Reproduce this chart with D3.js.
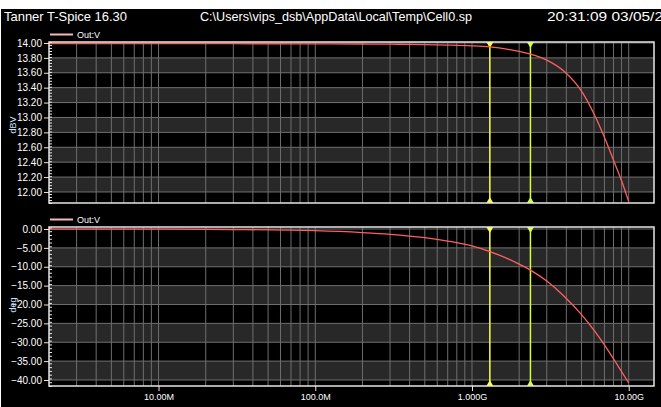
<!DOCTYPE html>
<html>
<head>
<meta charset="utf-8">
<script src="https://cdn.jsdelivr.net/npm/d3@7"></script>
<style>
body { margin: 0; background: #fff; }
svg { display: block; }
.tk text { fill: #fff; font-family: "Liberation Sans Narrow", "Liberation Sans", Arial, sans-serif; font-size: 10px; }
.tk line { stroke: #e8e8e8; }
.tk path { display: none; }
</style>
</head>
<body>
<svg id="chart" width="661" height="407"></svg>
<script>
// frequency points (Hz) and the two traces
var freqs = [2e6, 1e7, 3e7, 1e8, 2e8, 3e8, 5e8, 7e8, 1e9, 1.3e9, 1.7e9, 2e9, 2.36e9, 3e9, 3.87e9, 5.08e9, 6.03e9, 6.98e9, 8.09e9, 9e9, 1e10];
var magDBV = [13.99, 13.99, 13.99, 13.988, 13.986, 13.984, 13.978, 13.972, 13.962, 13.947, 13.915, 13.887, 13.85, 13.77, 13.62, 13.33, 13.04, 12.74, 12.40, 12.15, 11.87];
var phaseDeg = [-0.01, -0.05, -0.14, -0.45, -0.95, -1.4, -2.3, -3.2, -4.5, -6.0, -7.9, -9.3, -10.9, -13.8, -17.8, -23.0, -26.9, -30.6, -34.7, -37.8, -40.8];

var magTicks = [14.0, 13.8, 13.6, 13.4, 13.2, 13.0, 12.8, 12.6, 12.4, 12.2, 12.0];
var phaseTicks = [0, -5, -10, -15, -20, -25, -30, -35, -40];
var xTicks = [1e7, 1e8, 1e9, 1e10];
var xTickLabels = ['10.00M', '100.0M', '1.000G', '10.00G'];
var cursors = [1.3e9, 2.36e9];
var cursorColors = ['#ffff3c', '#d4ff3c'];

var titleLeft = 'Tanner T-Spice 16.30';
var titleMid = 'C:\\Users\\vips_dsb\\AppData\\Local\\Temp\\Cell0.sp';
var titleRight = '20:31:09 03/05/2';
var seriesName = 'Out:V';

var svg = d3.select('#chart');
var font = '"Liberation Sans Narrow", "Liberation Sans", Arial, sans-serif';

svg.append('rect').attr('x', 1).attr('y', 9).attr('width', 660).attr('height', 398).attr('fill', '#000');

svg.append('text').attr('x', 4).attr('y', 21).text(titleLeft)
	.attr('fill', '#fff').style('font-family', font).style('font-size', '13px')
	.attr('textLength', 123).attr('lengthAdjust', 'spacingAndGlyphs');
svg.append('text').attr('x', 200).attr('y', 21).text(titleMid)
	.attr('fill', '#fff').style('font-family', font).style('font-size', '13px')
	.attr('textLength', 272).attr('lengthAdjust', 'spacingAndGlyphs');
svg.append('text').attr('x', 547).attr('y', 21).text(titleRight)
	.attr('fill', '#fff').style('font-family', font).style('font-size', '13px')
	.attr('textLength', 116).attr('lengthAdjust', 'spacingAndGlyphs');

var x = d3.scaleLog().domain([2e6, 1.45e10]).range([49, 654]);

// vertical grid: 1..9 per decade
var gridF = [];
for (var e = 6; e <= 10; e++)
	for (var m = 1; m <= 9; m++) {
		var f = m * Math.pow(10, e);
		if (f > 2e6 && f <= 1e10) gridF.push(f);
	}

function Panel(opt) {
	var y = d3.scaleLinear().domain(opt.domain).range([opt.bottom, opt.top]);
	var g = svg.append('g');
	var clipId = 'clip' + opt.id;
	svg.append('clipPath').attr('id', clipId).append('rect')
		.attr('x', 49).attr('y', opt.top).attr('width', 605).attr('height', opt.bottom - opt.top);

	// alternating bands
	opt.bands.forEach(function(b) {
		g.append('rect').attr('x', 49).attr('width', 605)
			.attr('y', y(b[1])).attr('height', y(b[0]) - y(b[1]))
			.attr('fill', '#282828');
	});
	g.selectAll('.vg').data(gridF).enter().append('line')
		.attr('x1', function(d) { return x(d); }).attr('x2', function(d) { return x(d); })
		.attr('y1', opt.top).attr('y2', opt.bottom)
		.attr('stroke', '#6e6e6e').attr('stroke-width', 1);
	g.selectAll('.hg').data(opt.ticks).enter().append('line')
		.attr('x1', 49).attr('x2', 654)
		.attr('y1', function(d) { return y(d); }).attr('y2', function(d) { return y(d); })
		.attr('stroke', '#707070').attr('stroke-width', 1);

	// cursors
	cursors.forEach(function(c, i) {
		var cx = x(c);
		g.append('line').attr('x1', cx).attr('x2', cx).attr('y1', opt.top).attr('y2', opt.bottom)
			.attr('stroke', cursorColors[i]).attr('stroke-width', 1.5);
		g.append('path').attr('d', 'M' + (cx - 3.5) + ',' + opt.top + 'L' + (cx + 3.5) + ',' + opt.top + 'L' + cx + ',' + (opt.top + 6) + 'Z')
			.attr('fill', cursorColors[i]);
		g.append('path').attr('d', 'M' + (cx - 3.5) + ',' + opt.bottom + 'L' + (cx + 3.5) + ',' + opt.bottom + 'L' + cx + ',' + (opt.bottom - 6) + 'Z')
			.attr('fill', cursorColors[i]);
	});

	var line = d3.line().curve(d3.curveMonotoneX)
		.x(function(d, i) { return x(freqs[i]); })
		.y(function(d) { return y(d); });
	g.append('path').datum(opt.values).attr('d', line)
		.attr('clip-path', 'url(#' + clipId + ')')
		.attr('fill', 'none').attr('stroke', '#ff5f5f').attr('stroke-width', 1.3);

	// minor ticks inside frame
	var minor = [];
	for (var v = opt.domain[0]; v <= opt.domain[1]; v += opt.minorStep) minor.push(v);
	g.append('g').attr('class', 'tk').attr('transform', 'translate(49,0)')
		.call(d3.axisRight(y).tickValues(minor).tickSize(3).tickFormat(''));
	g.append('g').attr('class', 'tk').attr('transform', 'translate(49,0)')
		.call(d3.axisLeft(y).tickValues(opt.ticks).tickSize(5).tickPadding(2).tickFormat(d3.format('.2f')));

	g.append('rect').attr('x', 49).attr('y', opt.top).attr('width', 605).attr('height', opt.bottom - opt.top)
		.attr('fill', 'none').attr('stroke', '#e6e6e6').attr('stroke-width', 1.5);

	// legend
	g.append('line').attr('x1', 50).attr('x2', 73).attr('y1', opt.top - 7.5).attr('y2', opt.top - 7.5)
		.attr('stroke', '#f4b8b8').attr('stroke-width', 2);
	g.append('text').attr('x', 77).attr('y', opt.top - 4.5).text(seriesName)
		.attr('fill', '#fff').style('font-family', font).style('font-size', '9px');

	g.append('text').attr('transform', 'translate(16,' + opt.labelY + ') rotate(-90)')
		.attr('text-anchor', 'middle').text(opt.unit)
		.attr('fill', '#cfe0ff').style('font-family', font).style('font-size', '9px');
	return y;
}

Panel({id: 'mag', top: 42, bottom: 203, domain: [11.852, 14.013], ticks: magTicks, minorStep: 0.04,
	bands: [[13.6, 13.8], [13.2, 13.4], [12.8, 13.0], [12.4, 12.6], [12.0, 12.2]],
	values: magDBV, unit: 'dBV', labelY: 125});
Panel({id: 'ph', top: 227, bottom: 386, domain: [-41.59, 0.53], ticks: phaseTicks, minorStep: 1,
	bands: [[-10, -5], [-20, -15], [-30, -25], [-40, -35]],
	values: phaseDeg, unit: 'deg', labelY: 305});

var xa = svg.append('g').attr('class', 'tk').attr('transform', 'translate(0,386)')
	.call(d3.axisBottom(x).tickValues(xTicks).tickSize(5).tickPadding(3)
		.tickFormat(function(d, i) { return xTickLabels[i]; }));
xa.selectAll('text').style('font-size', '9px');
</script>
</body>
</html>
